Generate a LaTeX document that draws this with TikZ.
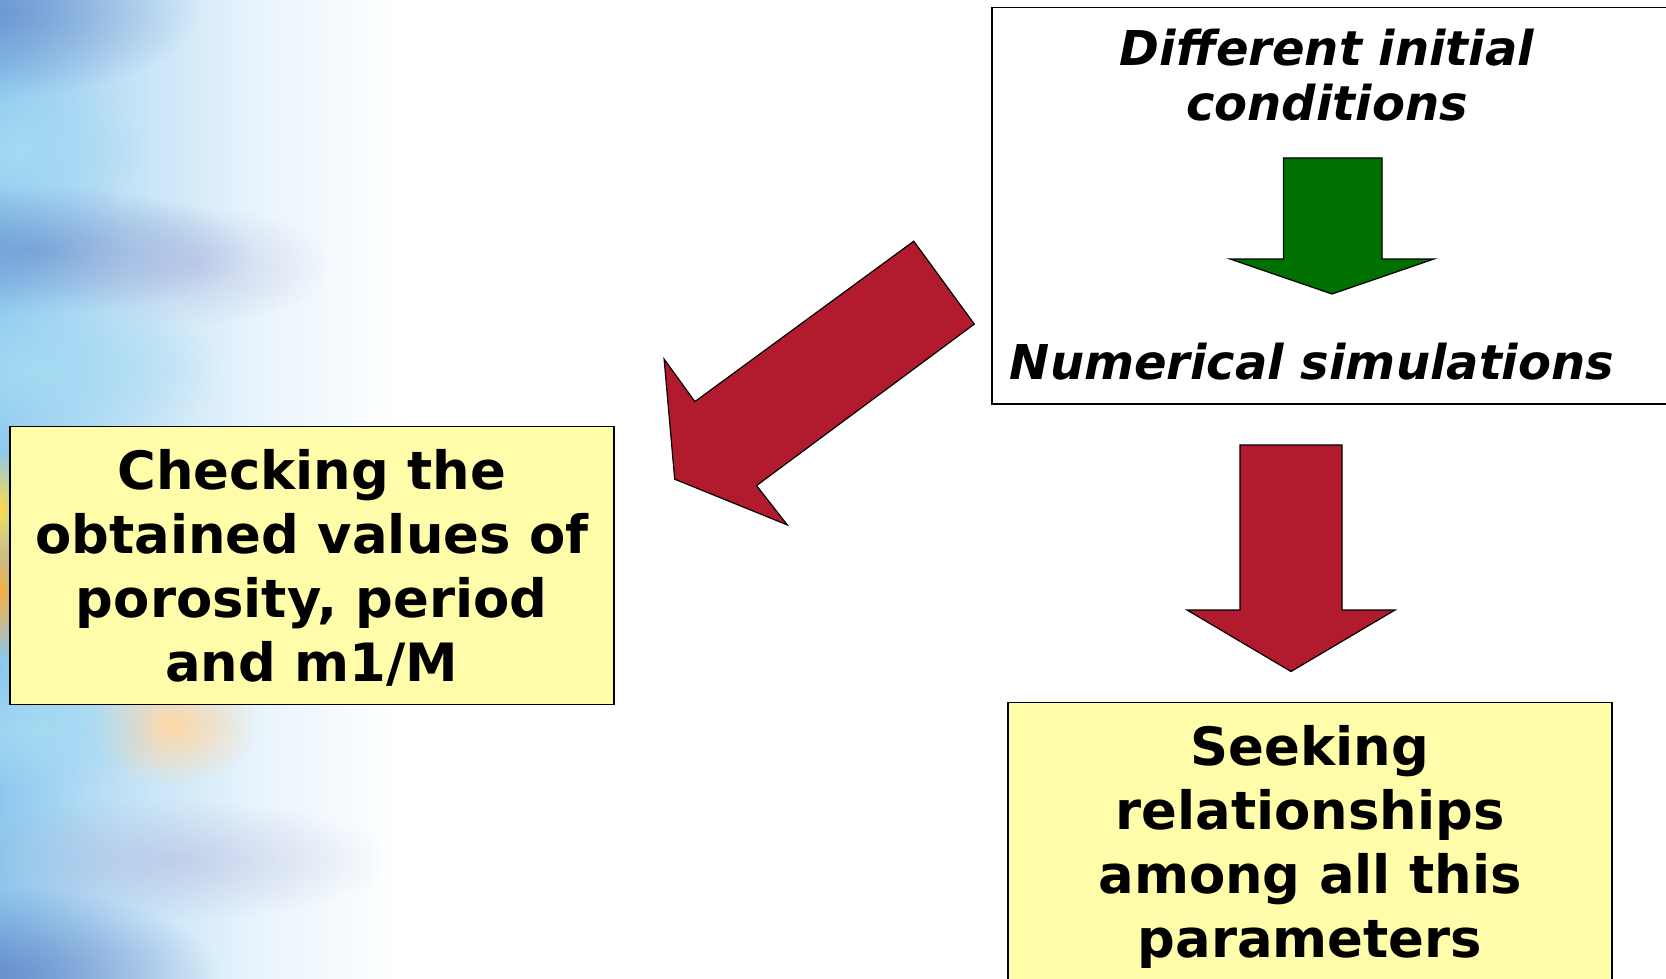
\documentclass[tikz,border=0pt]{standalone}
\usepackage{fontspec}
\setsansfont{DejaVu Sans}
\usetikzlibrary{positioning, fadings}
\definecolor{arrowred}{RGB}{178,26,46}
\definecolor{arrowgreen}{RGB}{0,112,0}
\definecolor{notepaper}{RGB}{255,253,170}
\definecolor{skyblue}{RGB}{140,200,238}
\definecolor{deepblue}{RGB}{100,135,200}
\definecolor{lavender}{RGB}{175,180,220}
\definecolor{paleblue}{RGB}{165,218,243}
\definecolor{sunorange}{RGB}{250,175,60}
\definecolor{sunyellow}{RGB}{255,220,70}
\definecolor{peach}{RGB}{255,215,165}
\tikzfading[name=softglow, inner color=transparent!0, outer color=transparent!100]
\pgfdeclarehorizontalshading{leftwash}{100bp}{color(0bp)=(skyblue); color(25bp)=(skyblue); color(40bp)=(skyblue!55!white); color(57bp)=(skyblue!20!white); color(75bp)=(white); color(100bp)=(white)}

\begin{document}
\begin{tikzpicture}[
    x=0.5pt, y=-0.5pt,
    every node/.style={font=\sffamily\bfseries\fontsize{26.4}{32}\selectfont},
    notebox/.style={draw=black, line width=0.8pt, fill=notepaper, align=center, inner sep=0pt, text depth=0pt, minimum width=302pt, minimum height=139pt},
    simbox/.style={draw=black, line width=0.8pt, fill=white, minimum width=344pt, minimum height=198.3pt},
    simtext/.style={font=\sffamily\bfseries\itshape\fontsize{24}{27.5}\selectfont, align=center, inner sep=0pt},
    blockred/.style={draw=black, line width=0.6pt, fill=arrowred},
    blockgreen/.style={draw=black, line width=0.6pt, fill=arrowgreen},
    glow/.style={path fading=softglow},
]
\clip (0,0) rectangle (1666,979);

% background wash on the left edge
\shade[shading=leftwash] (0,0) rectangle (400,979);
\fill[deepblue, glow, opacity=0.8] (-20,10) ellipse (220 and 90);
\fill[paleblue, glow] (20,150) ellipse (120 and 80);
\fill[deepblue, glow, opacity=0.6] (30,250) ellipse (220 and 65);
\fill[lavender, glow, opacity=0.5] (190,265) ellipse (140 and 60);
\fill[paleblue, glow] (40,370) ellipse (180 and 85);
\fill[sunyellow, glow] (0,510) ellipse (30 and 60);
\fill[sunorange, glow] (0,590) ellipse (30 and 70);
\fill[peach, glow] (172,725) ellipse (85 and 60);
\fill[paleblue, glow] (40,730) ellipse (120 and 60);
\fill[lavender, glow, opacity=0.5] (170,860) ellipse (220 and 60);
\fill[deepblue, glow, opacity=0.9] (-10,975) ellipse (230 and 90);

% boxes
\node[simbox] (sim) at (1336,205.7) {};
\node[simtext] (initial) at (1327,75) {Different initial\\conditions};
\node[simtext, anchor=base] (numsim) at (1312,379) {Numerical simulations};
\node[notebox] (check) at (311.8,565.5) {Checking the\\obtained values of\\porosity, period\\and m1/M};
\node[notebox] (seek) at (1310,841.5) {Seeking\\relationships\\among all this\\parameters};

% block arrows
\draw[blockgreen] (1283.5,158) -- (1382,158) -- (1382,259) -- (1434,259) -- (1332,294) -- (1230,259) -- (1283.5,259) -- cycle;
\draw[blockred] (913.75,241.2) -- (974.3,324.1) -- (756.5,485.6) -- (787.3,524.9) -- (674.7,479.2) -- (664.1,359.1) -- (694.9,401.6) -- cycle;
\draw[blockred] (1240,445) -- (1342,445) -- (1342,610) -- (1395,610) -- (1291,671.5) -- (1187,610) -- (1240,610) -- cycle;

\end{tikzpicture}
\end{document}
